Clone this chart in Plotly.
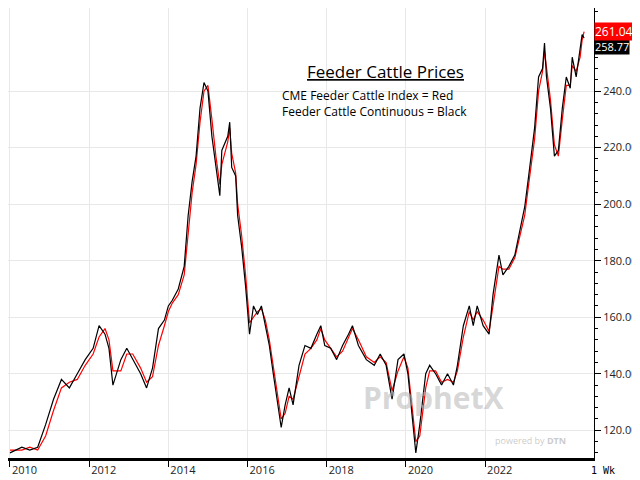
import plotly.graph_objects as go

t = [2010.0,2010.3,2010.5,2010.7,2010.9,2011.1,2011.3,2011.5,2011.7,2011.9,2012.1,2012.25,2012.4,2012.5,2012.6,2012.8,2012.95,2013.1,2013.3,2013.45,2013.6,2013.75,2013.9,2014.0,2014.1,2014.25,2014.4,2014.5,2014.6,2014.7,2014.8,2014.9,2015.0,2015.1,2015.2,2015.3,2015.35,2015.5,2015.55,2015.6,2015.7,2015.75,2015.85,2015.95,2016.05,2016.15,2016.25,2016.35,2016.45,2016.55,2016.65,2016.75,2016.85,2016.95,2017.05,2017.15,2017.3,2017.45,2017.6,2017.75,2017.85,2017.95,2018.1,2018.25,2018.4,2018.55,2018.65,2018.8,2019.0,2019.2,2019.35,2019.5,2019.65,2019.8,2019.95,2020.05,2020.15,2020.25,2020.35,2020.5,2020.6,2020.75,2020.9,2021.05,2021.2,2021.3,2021.45,2021.6,2021.7,2021.8,2021.95,2022.1,2022.2,2022.35,2022.45,2022.6,2022.75,2022.85,2023.0,2023.1,2023.25,2023.35,2023.45,2023.5,2023.55,2023.65,2023.75,2023.85,2023.95,2024.05,2024.15,2024.2,2024.3,2024.4,2024.45,2024.5]
futures = [112,114,113,114,122,131,138,135,140,145,149,157,154,149,136,145,149,145,140,135,142,156,159,164,166,170,178,196,208,217,234,243,240,224,213,203,219,224,229,213,210,196,185,171,154,164,161,164,157,150,140,131,121,129,135,129,143,150,149,154,157,150,149,145,150,154,157,150,145,143,147,143,131,145,147,140,126,112,122,140,143,140,136,140,136,143,157,164,157,164,157,154,168,182,175,178,182,189,199,210,227,245,248,257,245,234,217,219,234,245,241,252,245,255,260,258.77]
index = [113,113,114,113,118,127,135,137,138,143,147,153,156,152,141,141,147,147,142,137,139,150,157,162,165,168,175,190,204,214,229,240,242,230,217,207,214,222,227,218,211,200,189,175,158,160,162,163,159,152,143,134,124,126,132,131,139,147,149,152,156,152,149,146,148,153,156,152,146,144,146,144,134,141,146,142,130,116,118,135,141,141,137,138,137,141,153,162,159,162,159,155,164,178,177,177,181,187,196,207,223,240,247,254,248,237,221,217,230,242,242,249,247,252,258,261.04]

years = [2010,2012,2014,2016,2018,2020,2022]
yticks = [120,140,160,180,200,220,240]

fig = go.Figure()
fig.add_trace(go.Scatter(x=t, y=index, mode="lines", line=dict(color="red", width=1.2)))
fig.add_trace(go.Scatter(x=t, y=futures, mode="lines", line=dict(color="black", width=1.2)))

fig.update_layout(
    width=640, height=480, showlegend=False,
    margin=dict(l=0, r=54, t=0, b=30, pad=0),
    plot_bgcolor="white", paper_bgcolor="white",
    font=dict(family="Open Sans, DejaVu Sans", color="#222"),
    xaxis=dict(range=[2009.95, 2024.75], tickvals=years, ticktext=[str(y) for y in years],
               showgrid=True, gridcolor="#e8e8e8", ticks="outside", ticklen=6, tickcolor="black",
               showline=True, linecolor="black", linewidth=3, tickfont=dict(size=11),
               ticklabelposition="outside right"),
    yaxis=dict(side="right", range=[110.2, 269.4], tickvals=yticks,
               ticktext=[f"{v:.2f}" for v in yticks], showgrid=True, gridcolor="#e8e8e8",
               ticks="outside", ticklen=6, tickcolor="black", showline=True, linecolor="black",
               minor=dict(dtick=4, ticks="outside", ticklen=3, tickcolor="black"),
               tickfont=dict(size=11)),
)
fig.add_annotation(x=1.0, y=futures[-1]-3, xref="paper", yref="y", text="258.77", showarrow=False,
                   xanchor="left", bgcolor="black", font=dict(color="white", size=11), borderpad=0)
fig.add_annotation(x=1.0, y=index[-1], xref="paper", yref="y", text="261.04", showarrow=False,
                   xanchor="left", bgcolor="red", font=dict(color="white", size=12), borderpad=0)
fig.add_annotation(x=0.645, y=0.89, xref="paper", yref="paper", text="<u>Feeder Cattle Prices</u>",
                   showarrow=False, font=dict(size=17, color="black"), xanchor="center")
fig.add_annotation(x=0.465, y=0.83, xref="paper", yref="paper", showarrow=False, xanchor="left",
                   align="left", yanchor="top",
                   text="CME Feeder Cattle Index = Red<br>Feeder Cattle Continuous = Black",
                   font=dict(size=12, color="black"))
fig.add_annotation(x=0.85, y=0.085, xref="paper", yref="paper", text="<b>ProphetX</b>", showarrow=False,
                   font=dict(size=30, color="rgba(180,180,180,0.55)"))
fig.add_annotation(x=0.955, y=0.02, xref="paper", yref="paper", text="powered by <b>DTN</b>",
                   showarrow=False, xanchor="right", font=dict(size=9, color="rgba(180,180,180,0.7)"))
fig.add_annotation(x=1.04, y=-0.012, xref="paper", yref="paper", text="1 Wk", showarrow=False,
                   yanchor="top", font=dict(size=10, family="DejaVu Sans Mono", color="black"))
fig.write_html("out.html")
